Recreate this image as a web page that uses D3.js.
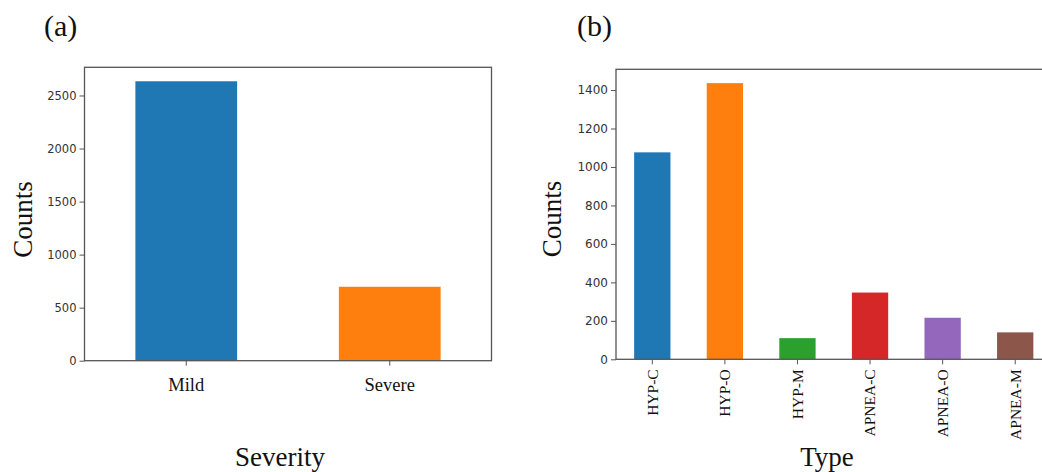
<!DOCTYPE html>
<html>
<head>
<meta charset="utf-8">
<script src="https://cdn.jsdelivr.net/npm/d3@7"></script>
<style>
  html, body { margin: 0; padding: 0; background: #fff; }
  svg { display: block; }
</style>
</head>
<body>
<svg id="chart" width="1042" height="472"></svg>
<script>
// ---- data ----
const severityCategories = ["Mild", "Severe"];
const severityCounts = [2634, 697];
const typeCategories = ["HYP-C", "HYP-O", "HYP-M", "APNEA-C", "APNEA-O", "APNEA-M"];
const typeCounts = [1076, 1436, 110, 347, 216, 140];
const severityTicks = [0, 500, 1000, 1500, 2000, 2500];
const typeTicks = [0, 200, 400, 600, 800, 1000, 1200, 1400];
const panelLabels = ["(a)", "(b)"];
const xTitles = ["Severity", "Type"];
const yTitle = "Counts";
const tab10 = ["#1f77b4", "#ff7f0e", "#2ca02c", "#d62728", "#9467bd", "#8c564b"];

const svg = d3.select("#chart");
const serif = "'Liberation Serif', 'Times New Roman', serif";
const sans = "'DejaVu Sans', sans-serif";
const frameColor = "#555";
const tickTextColor = "#333";

function panel(opts) {
  const { left, right, top, bottom, cats, vals, ticks, rotateLabels, tickFont } = opts;
  const g = svg.append("g");
  const x = d3.scaleBand().domain(cats).range([left, right]).paddingInner(0.5).paddingOuter(0.25);
  const y = d3.scaleLinear().domain([0, d3.max(vals) * 1.05]).range([bottom, top]);

  // bars
  g.selectAll("rect.bar").data(cats).enter().append("rect")
    .attr("class", "bar")
    .attr("x", d => x(d))
    .attr("width", x.bandwidth())
    .attr("y", (d, i) => y(vals[i]))
    .attr("height", (d, i) => y(0) - y(vals[i]))
    .attr("fill", (d, i) => tab10[i]);

  // frame
  g.append("rect")
    .attr("x", left).attr("y", top)
    .attr("width", right - left).attr("height", bottom - top)
    .attr("fill", "none").attr("stroke", frameColor).attr("stroke-width", 1.3);

  // y axis
  const ya = g.append("g").attr("transform", `translate(${left},0)`)
    .call(d3.axisLeft(y).tickValues(ticks).tickSize(5).tickPadding(3).tickFormat(d3.format("d")));
  ya.select(".domain").remove();
  ya.selectAll("line").attr("stroke", frameColor).attr("stroke-width", 1);
  ya.selectAll("text").attr("font-family", sans).attr("font-size", tickFont).attr("fill", tickTextColor);

  // x axis
  const xa = g.append("g").attr("transform", `translate(0,${bottom})`)
    .call(d3.axisBottom(x).tickSize(5).tickPadding(rotateLabels ? 5 : 12));
  xa.select(".domain").remove();
  xa.selectAll("line").attr("stroke", frameColor).attr("stroke-width", 1);
  const xt = xa.selectAll("text").attr("font-family", serif).attr("fill", "#111");
  if (rotateLabels) {
    xt.attr("font-size", 15.5)
      .attr("transform", "rotate(-90)")
      .attr("text-anchor", "end")
      .attr("x", -10).attr("y", 0).attr("dy", "0.35em");
  } else {
    xt.attr("font-size", 18.5);
  }
  return { g, x, y };
}

panel({ left: 84.5, right: 491.5, top: 67.3, bottom: 360.7,
        cats: severityCategories, vals: severityCounts, ticks: severityTicks, rotateLabels: false, tickFont: 11.5 });
panel({ left: 616, right: 1051.5, top: 69.3, bottom: 359.3,
        cats: typeCategories, vals: typeCounts, ticks: typeTicks, rotateLabels: true, tickFont: 12 });

// panel labels
svg.append("text").attr("x", 44).attr("y", 36).text(panelLabels[0])
  .attr("font-family", serif).attr("font-size", 30).attr("fill", "#111");
svg.append("text").attr("x", 577).attr("y", 36).text(panelLabels[1])
  .attr("font-family", serif).attr("font-size", 30).attr("fill", "#111");

// y titles
svg.append("text").attr("transform", "translate(32,219.5) rotate(-90)")
  .attr("text-anchor", "middle").text(yTitle)
  .attr("font-family", serif).attr("font-size", 27).attr("fill", "#111");
svg.append("text").attr("transform", "translate(561,219) rotate(-90)")
  .attr("text-anchor", "middle").text(yTitle)
  .attr("font-family", serif).attr("font-size", 27).attr("fill", "#111");

// x titles
svg.append("text").attr("x", 280).attr("y", 465.5).attr("text-anchor", "middle").text(xTitles[0])
  .attr("font-family", serif).attr("font-size", 27).attr("fill", "#111");
svg.append("text").attr("x", 827).attr("y", 466).attr("text-anchor", "middle").text(xTitles[1])
  .attr("font-family", serif).attr("font-size", 27).attr("fill", "#111");
</script>
</body>
</html>
